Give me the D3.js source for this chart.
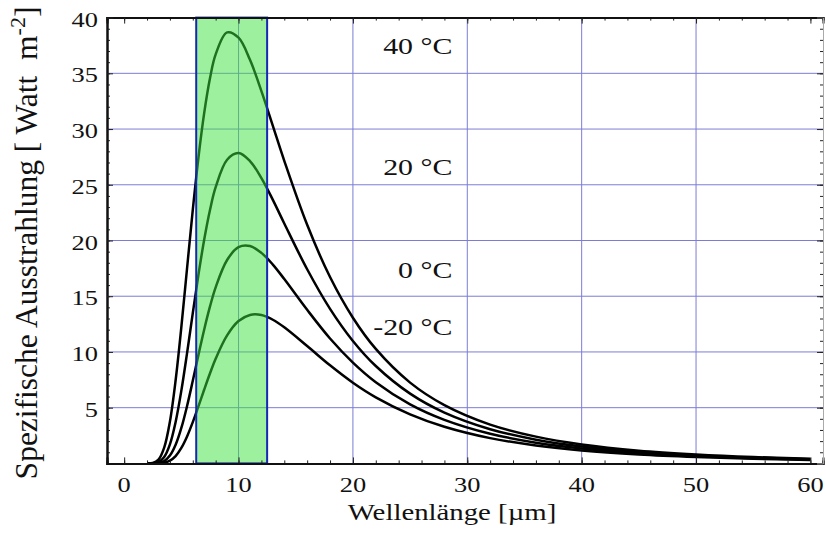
<!DOCTYPE html>
<html>
<head>
<meta charset="utf-8">
<script src="https://cdn.jsdelivr.net/npm/d3@7"></script>
<style>
  body { margin: 0; background: #fff; }
  text { font-family: "Liberation Serif", "Times New Roman", serif; fill: #111; }
</style>
</head>
<body>
<div id="chart"></div>
<script>
// wavelength samples in micrometre
var wavelength = [2, 2.5, 3, 3.5, 4, 4.5, 5, 5.5, 6, 6.5, 7, 7.5, 8, 9, 10, 11, 12, 13, 14, 16, 18, 20, 22, 25, 28, 32, 36, 40, 45, 50, 55, 60];

// spectral exitance, one list per temperature
var exitance40 = [0.00, 0.04, 0.34, 1.42, 3.75, 7.46, 12.23, 17.51, 22.74, 27.48, 31.45, 34.53, 36.70, 38.67, 38.20, 36.21, 33.41, 30.29, 27.15, 21.41, 16.72, 13.07, 10.27, 7.25, 5.23, 3.48, 2.40, 1.70, 1.14, 0.80, 0.57, 0.42];
var exitance20 = [0.00, 0.01, 0.12, 0.58, 1.71, 3.72, 6.53, 9.90, 13.48, 16.96, 20.09, 22.72, 24.78, 27.25, 27.85, 27.13, 25.60, 23.65, 21.53, 17.42, 13.87, 10.99, 8.74, 6.26, 4.56, 3.07, 2.13, 1.52, 1.03, 0.72, 0.52, 0.38];
var exitance0 = [0.00, 0.00, 0.04, 0.21, 0.70, 1.67, 3.18, 5.15, 7.41, 9.76, 12.02, 14.06, 15.80, 18.25, 19.40, 19.50, 18.89, 17.84, 16.54, 13.78, 11.21, 9.05, 7.29, 5.30, 3.91, 2.66, 1.86, 1.34, 0.91, 0.64, 0.46, 0.34];
var exitanceM20 = [0.00, 0.00, 0.01, 0.06, 0.25, 0.66, 1.39, 2.42, 3.70, 5.14, 6.63, 8.07, 9.39, 11.48, 12.77, 13.32, 13.31, 12.89, 12.21, 10.53, 8.80, 7.24, 5.93, 4.40, 3.29, 2.27, 1.61, 1.16, 0.80, 0.57, 0.41, 0.30];

var curveLabels = ["40 °C", "20 °C", "0 °C", "-20 °C"];
var labelPos = [[28.7, 36.7], [28.7, 25.9], [28.7, 16.6], [28.7, 11.5]];

// atmospheric window shaded in green
var windowBand = [6.3, 12.5];

var xTicks = [0, 10, 20, 30, 40, 50, 60];
var yTicks = [5, 10, 15, 20, 25, 30, 35, 40];
var xGrid = [10, 20, 30, 40, 50];
var yGrid = [5, 10, 15, 20, 25, 30, 35];

var w = 826, h = 539;
var sx = 1.2; // the source picture is stretched sideways
var svg = d3.select('#chart').append('svg')
    .attr('width', w)
    .attr('height', h);

var x = d3.scaleLinear().domain([-1.5, 61.1]).range([107, 823]);
var y = d3.scaleLinear().domain([0, 40]).range([463.4, 17.6]);

// grid
svg.append('g').selectAll('line')
  .data(xGrid).enter().append('line')
  .attr('x1', function(d){ return x(d); })
  .attr('x2', function(d){ return x(d); })
  .attr('y1', y(0)).attr('y2', y(40))
  .attr('stroke', '#7c7cd6').attr('stroke-width', 1);

svg.append('g').selectAll('line')
  .data(yGrid).enter().append('line')
  .attr('x1', x.range()[0]).attr('x2', x.range()[1])
  .attr('y1', function(d){ return y(d); })
  .attr('y2', function(d){ return y(d); })
  .attr('stroke', '#7c7cd6').attr('stroke-width', 1);

// curves
var series = [exitance40, exitance20, exitance0, exitanceM20];
var line = d3.line()
  .x(function(d, i){ return x(wavelength[i]); })
  .y(function(d){ return y(Math.max(0, d)); })
  .curve(d3.curveCatmullRom.alpha(0.5));

svg.append('g').selectAll('path')
  .data(series).enter().append('path')
  .attr('d', line)
  .attr('fill', 'none')
  .attr('stroke', '#000')
  .attr('stroke-width', 2.5);

// green window over the curves
svg.append('rect')
  .attr('x', x(windowBand[0]))
  .attr('y', y(40))
  .attr('width', x(windowBand[1]) - x(windowBand[0]))
  .attr('height', y(0) - y(40))
  .attr('fill', 'rgb(60,225,60)')
  .attr('fill-opacity', 0.5)
  .attr('stroke', '#1428b4')
  .attr('stroke-width', 2);

// frame with inward ticks
var minorX = d3.range(0, 61, 2);
var minorY = d3.range(1, 40, 1);

svg.append('g').attr('transform', 'translate(0,' + y(0) + ')')
  .call(d3.axisBottom(x).tickValues(minorX).tickSize(-3).tickFormat(''));
svg.append('g').attr('transform', 'translate(0,' + y(40) + ')')
  .call(d3.axisTop(x).tickValues(minorX).tickSize(-3).tickFormat(''));
svg.append('g').attr('transform', 'translate(' + x.range()[0] + ',0)')
  .call(d3.axisLeft(y).tickValues(minorY).tickSize(-3).tickFormat(''));
svg.append('g').attr('class', 'rightax').attr('transform', 'translate(' + x.range()[1] + ',0)')
  .call(d3.axisRight(y).tickValues(minorY).tickSize(-3).tickFormat(''));

// major ticks
svg.append('g').attr('transform', 'translate(0,' + y(0) + ')')
  .call(d3.axisBottom(x).tickValues(xTicks).tickSize(-6).tickFormat(''));
svg.append('g').attr('transform', 'translate(0,' + y(40) + ')')
  .call(d3.axisTop(x).tickValues(xTicks).tickSize(-6).tickFormat(''));
svg.append('g').attr('transform', 'translate(' + x.range()[0] + ',0)')
  .call(d3.axisLeft(y).tickValues(yTicks).tickSize(-6).tickFormat(''));
svg.append('g').attr('class', 'rightax').attr('transform', 'translate(' + x.range()[1] + ',0)')
  .call(d3.axisRight(y).tickValues(yTicks).tickSize(-6).tickFormat(''));

svg.selectAll('.domain').attr('stroke', '#111').attr('stroke-width', 2);
svg.selectAll('.tick line').attr('stroke', '#222').attr('stroke-width', 1);
svg.selectAll('.rightax .domain').attr('stroke', '#aaa').attr('stroke-width', 1);

// tick labels
svg.append('g').selectAll('text')
  .data(xTicks).enter().append('text')
  .attr('transform', function(d){ return 'translate(' + x(d) + ',492) scale(' + sx + ',1)'; })
  .attr('text-anchor', 'middle')
  .style('font-size', '22px')
  .text(function(d){ return d; });

svg.append('g').selectAll('text')
  .data(yTicks).enter().append('text')
  .attr('transform', function(d){ return 'translate(98,' + (y(d) + 9) + ') scale(' + sx + ',1)'; })
  .attr('text-anchor', 'end')
  .style('font-size', '22px')
  .text(function(d){ return d; });

// temperature labels
svg.append('g').selectAll('text')
  .data(curveLabels).enter().append('text')
  .attr('transform', function(d, i){
    return 'translate(' + x(labelPos[i][0]) + ',' + y(labelPos[i][1]) + ') scale(1.3,1)';
  })
  .attr('text-anchor', 'end')
  .style('font-size', '23px')
  .style('white-space', 'pre')
  .text(function(d){ return d; });

// axis titles
svg.append('text')
  .attr('transform', 'translate(452,520) scale(' + sx + ',1)')
  .attr('text-anchor', 'middle')
  .style('font-size', '24px')
  .text('Wellenlänge [µm]');

var yt = svg.append('text')
  .attr('transform', 'translate(37,243) rotate(-90)')
  .attr('text-anchor', 'middle')
  .style('font-size', '31.5px')
  .style('white-space', 'pre');
yt.append('tspan').text('Spezifische Ausstrahlung [ Watt  m');
yt.append('tspan').attr('dy', -12).style('font-size', '22px').text('-2');
yt.append('tspan').attr('dy', 12).text(']');
</script>
</body>
</html>
